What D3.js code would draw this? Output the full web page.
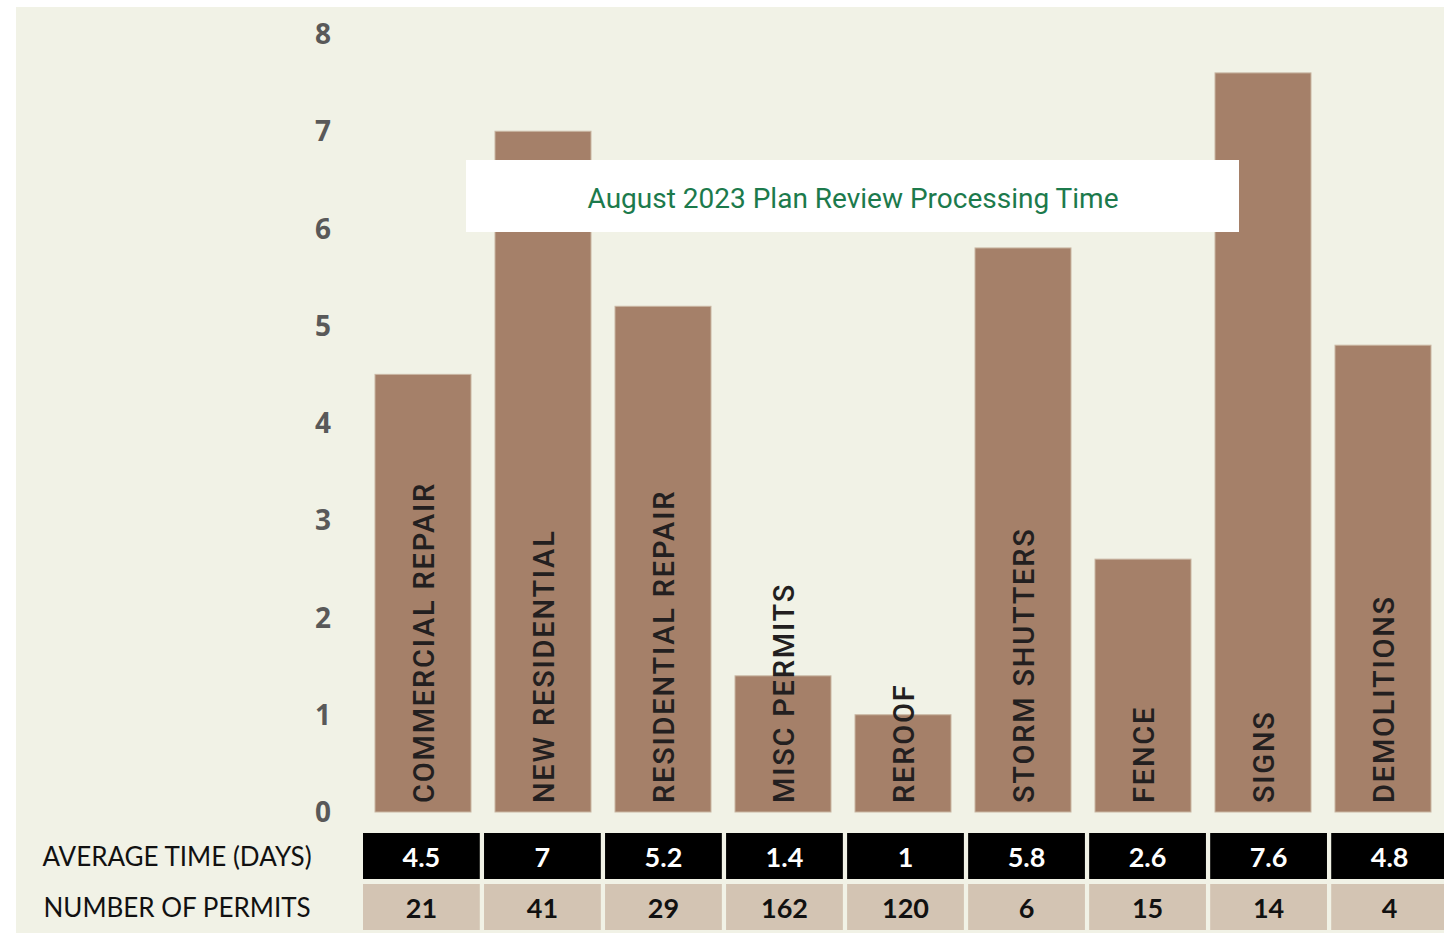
<!DOCTYPE html>
<html lang="en">
<head>
<meta charset="UTF-8">
<title>August 2023 Plan Review Processing Time</title>
<script src="https://d3js.org/d3.v7.min.js"></script>
<style>
  body { margin: 0; background: #ffffff; }
  svg { display: block; }
  .tick-label { font-family: "Open Sans", sans-serif; font-weight: 700; font-size: 28px; fill: #595959; }
  .bar-label { font-family: Roboto, sans-serif; font-weight: 500; font-size: 29px; fill: #231f20; letter-spacing: 1.8px; }
  .row-label { font-family: Lato, sans-serif; font-size: 26px; fill: #111; }
  .cell-text { font-family: Lato, sans-serif; font-weight: 700; font-size: 27px; }
</style>
</head>
<body>
<svg id="chart" width="1444" height="934"></svg>
<script>
const categories = ["COMMERCIAL REPAIR", "NEW RESIDENTIAL", "RESIDENTIAL REPAIR", "MISC PERMITS", "REROOF", "STORM SHUTTERS", "FENCE", "SIGNS", "DEMOLITIONS"];
const avgDays = [4.5, 7, 5.2, 1.4, 1, 5.8, 2.6, 7.6, 4.8];
const permits = [21, 41, 29, 162, 120, 6, 15, 14, 4];
const yTicks = [0, 1, 2, 3, 4, 5, 6, 7, 8];
const rowLabels = ["AVERAGE TIME (DAYS)", "NUMBER OF PERMITS"];
const title = "August 2023 Plan Review Processing Time";

const svg = d3.select("#chart");

// panel background
svg.append("rect")
  .attr("x", 16).attr("y", 7)
  .attr("width", 1428).attr("height", 926)
  .attr("fill", "#f1f2e6");

const x = d3.scaleBand()
  .domain(categories)
  .range([363, 1443])
  .paddingInner(0.2)
  .paddingOuter(0.1);

const y = d3.scaleLinear()
  .domain([0, 8])
  .range([812, 34]);

// y axis labels (no line)
svg.append("g")
  .selectAll("text")
  .data(yTicks)
  .enter().append("text")
  .attr("class", "tick-label")
  .attr("x", 323)
  .attr("y", d => y(d))
  .attr("dy", "0.36em")
  .attr("text-anchor", "middle")
  .text(d => d);

// bars
svg.append("g")
  .selectAll("rect")
  .data(categories)
  .enter().append("rect")
  .attr("x", d => x(d))
  .attr("y", (d, i) => y(avgDays[i]))
  .attr("width", x.bandwidth())
  .attr("height", (d, i) => y(0) - y(avgDays[i]))
  .attr("fill", "#a58069")
  .attr("stroke", "#c9b6a2")
  .attr("stroke-width", 1);

// title box
svg.append("rect")
  .attr("x", 466).attr("y", 160)
  .attr("width", 773).attr("height", 72)
  .attr("fill", "#ffffff");
svg.append("text")
  .attr("x", 853).attr("y", 208)
  .attr("text-anchor", "middle")
  .attr("font-family", "Roboto, sans-serif")
  .attr("font-size", 28)
  .attr("fill", "#1c7a4c")
  .text(title);

// rotated labels in bars
svg.append("g")
  .selectAll("text")
  .data(categories)
  .enter().append("text")
  .attr("class", "bar-label")
  .attr("transform", d => `translate(${x(d) + x.bandwidth() / 2 + 11},803) rotate(-90)`)
  .text(d => d);

// data table
const tx = d3.scaleBand()
  .domain(categories)
  .range([363, 1448])
  .paddingInner(0.035)
  .paddingOuter(0);

const rows = [
  { values: avgDays, y: 833, fill: "#000000", text: "#ffffff" },
  { values: permits, y: 884, fill: "#d3c4b3", text: "#111111" }
];

rows.forEach((r, ri) => {
  const g = svg.append("g");
  g.selectAll("rect")
    .data(categories)
    .enter().append("rect")
    .attr("x", d => tx(d))
    .attr("y", r.y)
    .attr("width", tx.bandwidth())
    .attr("height", 46)
    .attr("fill", r.fill);
  g.selectAll("text")
    .data(categories)
    .enter().append("text")
    .attr("class", "cell-text")
    .attr("x", d => tx(d) + tx.bandwidth() / 2)
    .attr("y", r.y + 24)
    .attr("dy", "0.36em")
    .attr("text-anchor", "middle")
    .attr("fill", r.text)
    .text((d, i) => r.values[i]);
  svg.append("text")
    .attr("class", "row-label")
    .attr("x", 177)
    .attr("y", r.y + 24)
    .attr("dy", "0.36em")
    .attr("text-anchor", "middle")
    .text(rowLabels[ri]);
});
</script>
</body>
</html>
